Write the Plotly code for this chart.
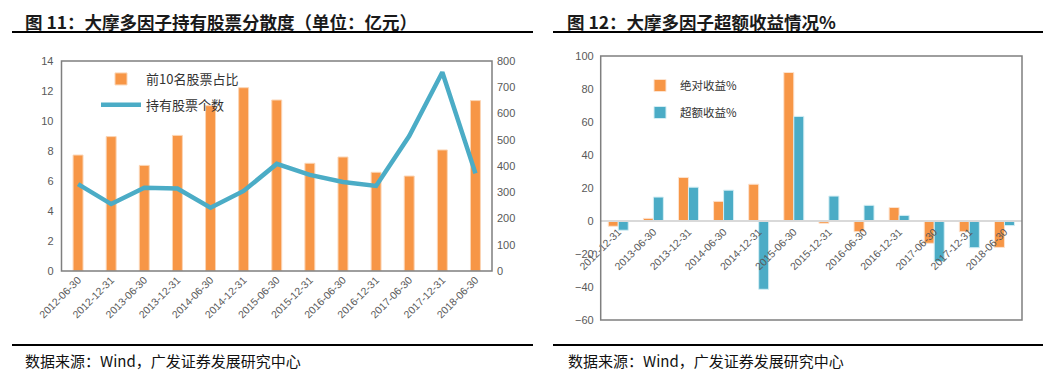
import plotly.graph_objects as go

# ---------------- data ----------------
dates_left = ["2012-06-30", "2012-12-31", "2013-06-30", "2013-12-31", "2014-06-30",
              "2014-12-31", "2015-06-30", "2015-12-31", "2016-06-30", "2016-12-31",
              "2017-06-30", "2017-12-31", "2018-06-30"]
top10_share = [7.73, 8.96, 7.04, 9.04, 11.02, 12.22, 11.40, 7.18, 7.60, 6.58, 6.33, 8.07, 11.36]
n_stocks = [331, 255, 317, 314, 241, 305, 408, 366, 339, 324, 514, 757, 372]

dates_right = ["2012-12-31", "2013-06-30", "2013-12-31", "2014-06-30", "2014-12-31",
               "2015-06-30", "2015-12-31", "2016-06-30", "2016-12-31", "2017-06-30",
               "2017-12-31", "2018-06-30"]
abs_ret = [-3.2, 1.6, 26.4, 11.9, 22.3, 90.0, -1.4, -6.5, 8.2, -13.5, -6.5, -16.0]
excess_ret = [-5.6, 14.5, 20.5, 18.7, -41.4, 63.4, 15.1, 9.5, 3.4, -24.6, -16.2, -2.8]

title_left = "图 11：大摩多因子持有股票分散度（单位：亿元）"
title_right = "图 12：大摩多因子超额收益情况%"
source_text = "数据来源：Wind，广发证券发展研究中心"

ORANGE = "#f79646"
BLUE = "#4bacc6"
TICK = "#595959"
W, H = 1050, 369
OFF = 8  # page body margin
CJK = "Noto Sans CJK SC"
LAT = "Liberation Sans, Arial"


def py(px):
    return 1 - (px - OFF) / H


def pxx(px):
    return (px - OFF) / W


fig = go.Figure()

fig.add_trace(go.Bar(x=dates_left, y=top10_share, xaxis="x", yaxis="y", width=0.3,
                     marker=dict(color=ORANGE, line=dict(color="#fbd5b5", width=1)),
                     name="前10名股票占比", legend="legend", legendgroup="a"))
fig.add_trace(go.Scatter(x=dates_left, y=n_stocks, xaxis="x", yaxis="y2", mode="lines",
                         line=dict(color=BLUE, width=4.5),
                         name="持有股票个数", legend="legend", legendgroup="b"))

fig.add_trace(go.Bar(x=dates_right, y=abs_ret, xaxis="x2", yaxis="y3",
                     marker=dict(color=ORANGE, line=dict(color="#fde3cf", width=1)),
                     name="绝对收益%", legend="legend2", legendgroup="c"))
fig.add_trace(go.Bar(x=dates_right, y=excess_ret, xaxis="x2", yaxis="y3",
                     marker=dict(color=BLUE, line=dict(color="#d4eef4", width=1)),
                     name="超额收益%", legend="legend2", legendgroup="d"))

tickfont = dict(family=LAT, size=10.5, color=TICK)
ytickfont = dict(family=LAT, size=11, color=TICK)

left_dom_x = [pxx(61.5), pxx(492)]
left_dom_y = [py(271), py(61)]
right_dom_x = [pxx(600.7), pxx(1022)]
right_dom_y = [py(320), py(56)]
zero_pos = right_dom_y[0] + (60 / 160) * (right_dom_y[1] - right_dom_y[0])

fig.update_layout(
    width=W, height=H, autosize=False,
    margin=dict(l=0, r=0, t=0, b=0, autoexpand=False),
    paper_bgcolor="white", plot_bgcolor="white",
    barmode="group", bargap=0.43, bargroupgap=0.0,
    xaxis=dict(domain=left_dom_x, anchor="y", type="category", tickangle=-45, automargin=False,
               tickfont=tickfont, showgrid=False, showline=False, ticks="", zeroline=False),
    yaxis=dict(domain=left_dom_y, anchor="x", range=[0, 14], dtick=2, tickfont=ytickfont,
               automargin=False, showgrid=False, zeroline=False, showline=False, ticks="",
               ticklabelstandoff=7),
    yaxis2=dict(overlaying="y", side="right", anchor="x", range=[0, 800], dtick=100,
                automargin=False, tickfont=ytickfont, showgrid=False, zeroline=False,
                showline=False, ticks="", ticklabelstandoff=4),
    xaxis2=dict(domain=right_dom_x, anchor="free", position=zero_pos, type="category",
                automargin=False, tickangle=-45, tickfont=tickfont, showgrid=False,
                showline=True, linecolor="#d9d9d9", linewidth=1.5, ticks="", zeroline=False),
    yaxis3=dict(domain=right_dom_y, anchor="x2", range=[-60, 100], dtick=20, tickfont=ytickfont,
                automargin=False, showgrid=False, zeroline=False, showline=False, ticks="",
                ticklabelstandoff=6),
    legend=dict(x=pxx(96), y=py(64), xanchor="left", yanchor="top", bgcolor="rgba(0,0,0,0)",
                font=dict(family=CJK, size=13, color="#333"), traceorder="grouped",
                tracegroupgap=6, itemwidth=40),
    legend2=dict(x=pxx(640), y=py(71), xanchor="left", yanchor="top", bgcolor="rgba(0,0,0,0)",
                 font=dict(family=CJK, size=11.5, color="#333"), traceorder="grouped",
                 tracegroupgap=8, itemwidth=30),
    showlegend=True,
)

# panel boxes
fig.add_shape(type="rect", xref="x domain", yref="y domain", x0=0, x1=1, y0=0, y1=1,
              line=dict(color="#7f7f7f", width=1.5), layer="above")
fig.add_shape(type="rect", xref="x2 domain", yref="y3 domain", x0=0, x1=1, y0=0, y1=1,
              line=dict(color="#7f7f7f", width=1.5), layer="above")

# title / footer rules
for (x0, x1) in [(12, 533), (553, 1043)]:
    for ypx in (32, 345):
        fig.add_shape(type="line", xref="paper", yref="paper", x0=pxx(x0), x1=pxx(x1),
                      y0=py(ypx), y1=py(ypx), line=dict(color="black", width=2.2))

# titles
for txt, xs in ((title_left, 24), (title_right, 566)):
    fig.add_annotation(text="<b>" + txt + "</b>", xref="paper", yref="paper",
                       x=pxx(xs), y=py(8.5), xanchor="left", yanchor="top", showarrow=False,
                       borderpad=0, font=dict(family=CJK, size=17.5, color="#1a1a1a"))

# sources
for xs in (23, 566):
    fig.add_annotation(text=source_text, xref="paper", yref="paper",
                       x=pxx(xs), y=py(360), xanchor="left", yanchor="middle", showarrow=False,
                       font=dict(family=CJK, size=15, color="#111"))

fig.write_html("out.html")
